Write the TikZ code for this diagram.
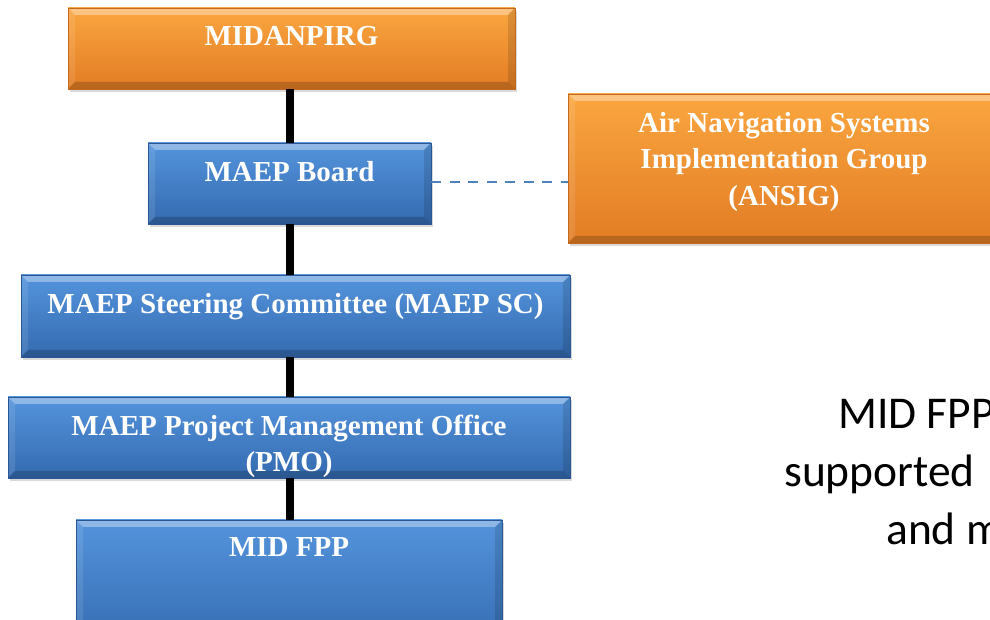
\documentclass[tikz,border=0pt]{standalone}
\usepackage{fontspec}
\setmainfont{Liberation Serif}
\newfontfamily\calibri{Carlito}
\usetikzlibrary{shadows}

\definecolor{orgtop}{RGB}{250,166,64}
\definecolor{orgbot}{RGB}{226,124,36}
\definecolor{orgedge}{RGB}{196,104,30}
\definecolor{blutop}{RGB}{84,148,220}
\definecolor{blubot}{RGB}{52,106,176}
\definecolor{bluedge}{RGB}{42,86,146}
\definecolor{dashblue}{RGB}{79,129,189}

\tikzset{
  bevel/.style={path picture={
      \fill[white,opacity=.35] (path picture bounding box.north west) -- (path picture bounding box.north east)
        -- ([shift={(-7pt,-7pt)}]path picture bounding box.north east) -- ([shift={(7pt,-7pt)}]path picture bounding box.north west) -- cycle;
      \fill[black,opacity=.18] (path picture bounding box.south west) -- (path picture bounding box.south east)
        -- ([shift={(-7pt,7pt)}]path picture bounding box.south east) -- ([shift={(7pt,7pt)}]path picture bounding box.south west) -- cycle;
      \fill[black,opacity=.12] (path picture bounding box.north east) -- (path picture bounding box.south east)
        -- ([shift={(-7pt,7pt)}]path picture bounding box.south east) -- ([shift={(-7pt,-7pt)}]path picture bounding box.north east) -- cycle;
      \fill[white,opacity=.1] (path picture bounding box.north west) -- (path picture bounding box.south west)
        -- ([shift={(7pt,7pt)}]path picture bounding box.south west) -- ([shift={(7pt,-7pt)}]path picture bounding box.north west) -- cycle;
  }},
  box/.style={rectangle, inner sep=0pt, line width=.6pt, bevel,
    drop shadow={opacity=.3, shadow xshift=2pt, shadow yshift=-3pt}},
  orgbox/.style={box, top color=orgtop, bottom color=orgbot, draw=orgedge},
  blubox/.style={box, top color=blutop, bottom color=blubot, draw=bluedge},
  boxtext/.style={anchor=north, inner sep=0pt, text=white, align=center,
    font=\fontsize{29}{36.5}\selectfont\bfseries},
  note/.style={anchor=base west, inner sep=0pt, font=\calibri\fontsize{45.5}{57}\selectfont},
  link/.style={line width=8pt},
}

\begin{document}
\begin{tikzpicture}[x=1pt,y=1pt]
\useasboundingbox (0,0) rectangle (990,620);
\clip (0,0) rectangle (990,620);

% boxes
\node[orgbox, minimum width=447pt, minimum height=81pt] (mid) at (291.5,571.5) {};
\node[blubox, minimum width=283pt, minimum height=81pt] (board) at (289.5,436.5) {};
\node[orgbox, minimum width=432pt, minimum height=149pt] (ansig) at (784,451.5) {};
\node[blubox, minimum width=549pt, minimum height=82pt] (sc) at (295.5,304) {};
\node[blubox, minimum width=562pt, minimum height=81pt] (pmo) at (289,182.5) {};
\node[blubox, minimum width=426pt, minimum height=130pt] (fpp) at (289,35) {};

\node[boxtext] (midtxt) at ([yshift=-18pt]mid.north) {MIDANPIRG};
\node[boxtext] (boardtxt) at ([yshift=-18pt]board.north) {MAEP Board};
\node[boxtext] (ansigtxt) at ([yshift=-18pt]ansig.north) {Air Navigation Systems\\Implementation Group\\(ANSIG)};
\node[boxtext] (sctxt) at ([yshift=-18pt]sc.north) {MAEP Steering Committee (MAEP SC)};
\node[boxtext] (pmotxt) at ([yshift=-18pt]pmo.north) {MAEP Project Management Office\\(PMO)};
\node[boxtext] (fpptxt) at ([yshift=-18pt]fpp.north) {MID FPP};

% links
\coordinate (spine) at (290,0);
\draw[link] (mid.south -| spine) -- (board.north -| spine);
\draw[link] (board.south -| spine) -- (sc.north -| spine);
\draw[link] (sc.south -| spine) -- (pmo.north -| spine);
\draw[link] (pmo.south -| spine) -- (fpp.north -| spine);
\draw[dashblue, line width=2.8pt, dash pattern=on 10pt off 8.5pt] ([yshift=1.5pt]board.east) -- ([yshift=1.5pt]board.east -| ansig.west);

% side note
\node[note] (note1) at (838,191) {MID FPP};
\node[note] (note2) at (784,133) {supported};
\node[note] (note3) at (886,75) {and m};
\end{tikzpicture}
\end{document}
